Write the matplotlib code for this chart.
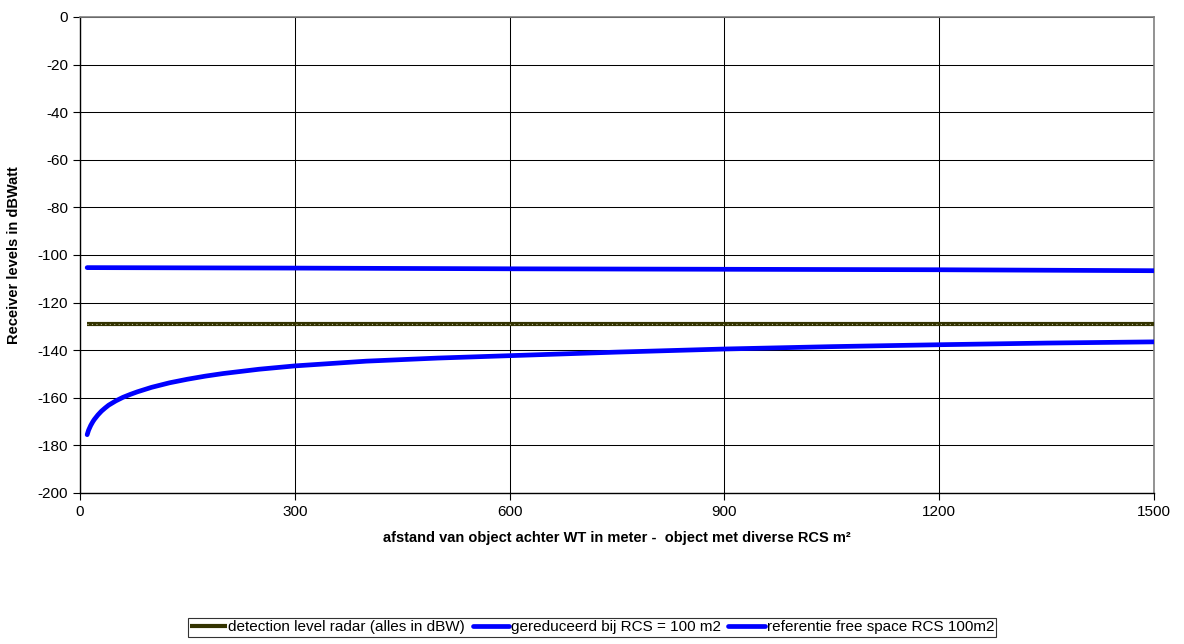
import numpy as np
import matplotlib
matplotlib.use('Agg')
import matplotlib.pyplot as plt

plt.rcParams['font.family'] = ['Liberation Sans', 'DejaVu Sans']
plt.rcParams['axes.unicode_minus'] = False

# afstand (m)
afstand = [10, 12, 15, 18, 20, 25, 30, 35, 40, 50, 60, 70, 80, 100, 125, 150,
           175, 200, 250, 300, 400, 500, 600, 750, 900, 1050, 1200, 1350, 1500]
# gereduceerd bij RCS = 100 m2 (dBW)
gereduceerd = [-175.5, -173.6, -171.6, -170.0, -169.1, -167.2, -165.6, -164.3,
               -163.1, -161.3, -159.8, -158.6, -157.5, -155.6, -153.7, -152.2,
               -150.9, -149.8, -148.0, -146.6, -144.6, -143.3, -142.3, -140.8,
               -139.5, -138.5, -137.7, -137.0, -136.5]

ref_afstand = [10, 300, 600, 900, 1200, 1500]
referentie = [-105.3, -105.5, -105.8, -106.0, -106.2, -106.6]

det_afstand = [10, 1500]
detectie = [-129, -129]

x_ticks = [0, 300, 600, 900, 1200, 1500]
y_ticks = list(range(-200, 1, 20))

fig = plt.figure(figsize=(11.84, 6.44), dpi=100)
ax = fig.add_axes([80 / 1184, 1 - 493 / 644, (1154 - 80) / 1184, (493 - 17) / 644])

ax.plot(det_afstand, detectie, color='#333300', lw=3.0, solid_capstyle='butt',
        label='detection level radar (alles in dBW)', zorder=3)
ax.plot(det_afstand, detectie, color='#b0b090', lw=0.8, ls=(0, (1, 3)), zorder=4)
ax.plot(afstand, gereduceerd, color='#0000ff', lw=3.4, solid_capstyle='round',
        solid_joinstyle='round', label='gereduceerd bij RCS = 100 m2', zorder=3)
ax.plot(ref_afstand, referentie, color='#0000ff', lw=3.4, solid_capstyle='round',
        label='referentie free space RCS 100m2', zorder=3)

ax.set_xlim(0, 1500)
ax.set_ylim(-200, 0)
ax.set_xticks(x_ticks)
ax.set_yticks(y_ticks)
ax.tick_params(direction='out', length=5, width=0.8, labelsize=11, colors='black')
ax.grid(True, color='black', lw=0.75)
ax.set_axisbelow(True)

for s in ['left', 'bottom']:
    ax.spines[s].set_color('black')
    ax.spines[s].set_linewidth(1.0)
for s in ['top', 'right']:
    ax.spines[s].set_color('#808080')
    ax.spines[s].set_linewidth(1.2)

ax.set_xlabel('afstand van object achter WT in meter -  object met diverse RCS m²',
              fontsize=10.5, fontweight='bold', labelpad=9)
ax.set_ylabel('Receiver levels in dBWatt', fontsize=10.5, fontweight='bold', labelpad=12)

leg = fig.legend(loc='upper center', bbox_to_anchor=(592 / 1184, 1 - 618 / 644), ncol=3,
                 fontsize=11, frameon=True, fancybox=False, edgecolor='black',
                 handlelength=2.4, handletextpad=0.1, columnspacing=0.5,
                 borderpad=0.15, borderaxespad=0)
leg.get_frame().set_linewidth(0.8)

fig.savefig('out.png', dpi=100)
